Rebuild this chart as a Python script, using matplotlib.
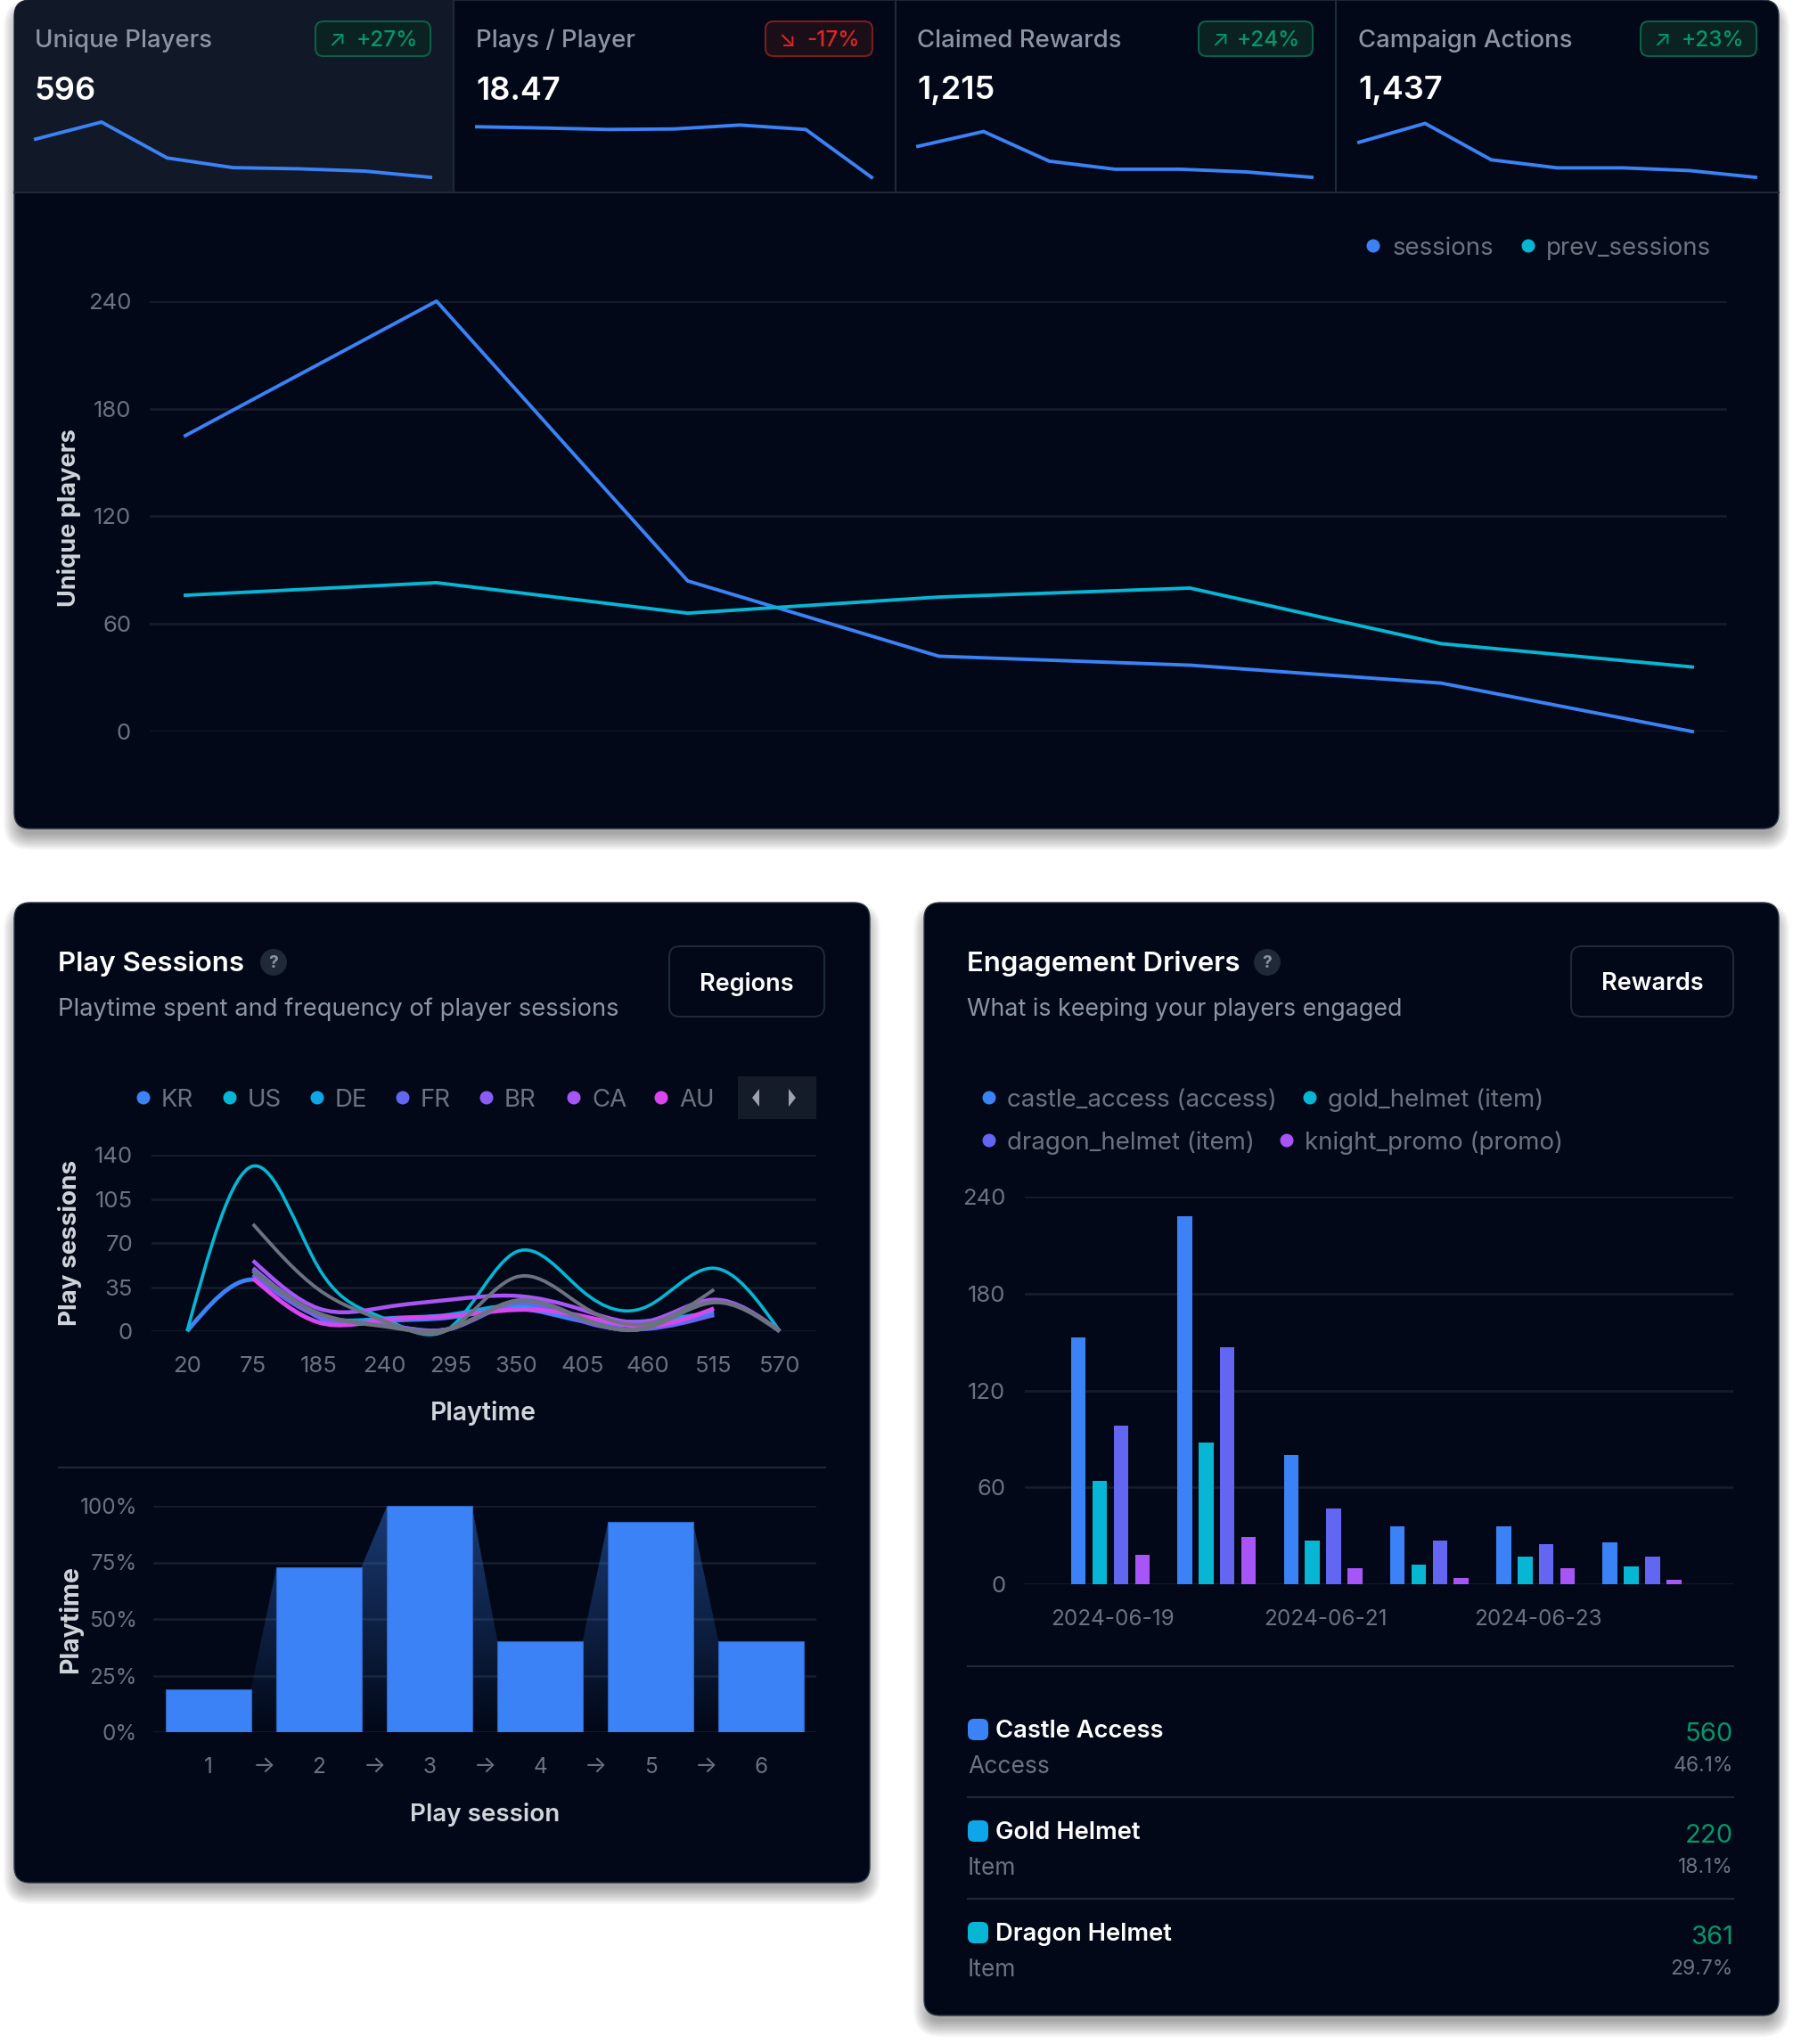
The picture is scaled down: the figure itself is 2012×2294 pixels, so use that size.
import matplotlib
matplotlib.use("Agg")
import matplotlib.pyplot as plt
import numpy as np
from matplotlib.patches import Circle, FancyBboxPatch, PathPatch, Polygon, Rectangle
from matplotlib.path import Path

W, H = 2012, 2294
plt.rcParams['font.family'] = ['Inter', 'DejaVu Sans']

BG = '#020817'
HILITE = '#111827'
BORDER = '#1f2937'
GRID = '#151d2c'
MUTED = '#6b7280'
SOFT = '#8b95a5'
LABEL = '#d1d5db'
BLUE = '#3b82f6'
CYAN = '#06b6d4'
SKY = '#0ea5e9'
INDIGO = '#6366f1'
VIOLET = '#8b5cf6'
PURPLE = '#a855f7'
FUCHSIA = '#d946ef'
GRAY = '#6b7280'
GREEN = '#059669'
RED = '#dc2626'

# kpi row
kpi_names = ['Unique Players', 'Plays / Player', 'Claimed Rewards', 'Campaign Actions']
kpi_values = ['596', '18.47', '1,215', '1,437']
kpi_deltas = ['+27%', '-17%', '+24%', '+23%']
spark_unique = [166, 240, 84, 42, 37, 27, 0]
spark_plays = [20.5, 20.0, 19.4, 19.6, 21.2, 19.4, 0]
spark_claimed = [184, 272, 96, 48, 48, 32, 0]
spark_actions = [208, 320, 104, 56, 56, 40, 0]

# main line chart
sessions = [165, 240, 84, 42, 37, 27, 0]
prev_sessions = [76, 83, 66, 75, 80, 49, 36]
main_ticks = [0, 60, 120, 180, 240]

# play sessions by region
playtime_labels = ['20', '75', '185', '240', '295', '350', '405', '460', '515', '570']
nan = np.nan
region_names = ['KR', 'US', 'DE', 'FR', 'BR', 'CA', 'AU']
region_kr = [0, 41, 11, 8, 11, 18, 8, 6, 13, nan]
region_us = [0, 131, 50, 10, 3, 63, 32, 20, 50, 0]
region_de = [nan, 48, 12, 10, 13, 20, 10, 8, 15, nan]
region_fr = [nan, 45, 12, 5, 2, 22, 8, 2, 13, nan]
region_br = [nan, 50, 13, 5, 2, 24, 10, 3, 24, 0]
region_ca = [nan, 56, 18, 19, 25, 28, 17, 8, 25, 0]
region_au = [nan, 42, 7, 9, 12, 17, 12, 4, 18, nan]
region_gray1 = [nan, 85, 33, 8, 2, 43, 20, 6, 33, nan]
region_gray2 = [nan, 48, 14, 4, 2, 24, 10, 3, 23, 0]
region_ticks = [0, 35, 70, 105, 140]

# funnel
funnel_labels = ['1', '2', '3', '4', '5', '6']
funnel_values = [19, 73, 100, 40, 93, 40]
funnel_ticks = [0, 25, 50, 75, 100]

# engagement bars
dates = ['2024-06-19', '2024-06-20', '2024-06-21', '2024-06-22', '2024-06-23', '2024-06-24']
castle_access = [153, 228, 80, 36, 36, 26]
gold_helmet = [64, 88, 27, 12, 17, 11]
dragon_helmet = [98, 147, 47, 27, 25, 17]
knight_promo = [18, 29, 10, 4, 10, 3]
engage_ticks = [0, 60, 120, 180, 240]

# table
table_names = ['Castle Access', 'Gold Helmet', 'Dragon Helmet']
table_types = ['Access', 'Item', 'Item']
table_counts = ['560', '220', '361']
table_shares = ['46.1%', '18.1%', '29.7%']


def px_axes(x0, y0, x1, y1):
    # axes from pixel box, y measured from the top of the picture
    ax = fig.add_axes([x0 / W, 1 - y1 / H, (x1 - x0) / W, (y1 - y0) / H])
    ax.patch.set_alpha(0)
    for s in ax.spines.values():
        s.set_visible(False)
    ax.tick_params(length=0, labelcolor=MUTED, labelsize=18.5)
    return ax


def natural_path(xs, ys):
    # natural cubic spline written as bezier segments
    n = len(xs)
    h = xs[1] - xs[0]
    A = np.eye(n)
    b = np.zeros(n)
    for i in range(1, n - 1):
        A[i, i - 1:i + 2] = [1, 4, 1]
        b[i] = 6 * (ys[i - 1] - 2 * ys[i] + ys[i + 1]) / h ** 2
    m = np.linalg.solve(A, b)
    verts = [(xs[0], ys[0])]
    codes = [Path.MOVETO]
    for i in range(n - 1):
        d = (ys[i + 1] - ys[i]) / h
        s0 = d - h * (2 * m[i] + m[i + 1]) / 6
        s1 = d + h * (m[i] + 2 * m[i + 1]) / 6
        verts += [(xs[i] + h / 3, ys[i] + s0 * h / 3),
                  (xs[i + 1] - h / 3, ys[i + 1] - s1 * h / 3),
                  (xs[i + 1], ys[i + 1])]
        codes += [Path.CURVE4] * 3
    return Path(verts, codes)


def card(x0, y0, x1, y1, r=18):
    for i in range(14):
        pad = 12 - i * 1.4
        ui.add_patch(FancyBboxPatch((x0 - pad, y0 + 12 - pad), x1 - x0 + 2 * pad, y1 - y0 + 2 * pad,
                                    boxstyle=f'round,pad=0,rounding_size={r + pad}',
                                    fc='black', ec='none', alpha=0.028))
    ui.add_patch(FancyBboxPatch((x0, y0), x1 - x0, y1 - y0, boxstyle=f'round,pad=0,rounding_size={r}',
                                fc=BG, ec='#2b3444', lw=1))


def label(x, y, s, **kw):
    # inter sits a little high with va=center
    kw.setdefault('va', 'center')
    ui.text(x, y + 3, s, **kw)


def dot_label(x, y, color, s, gap=20):
    ui.add_patch(Circle((x, y), 7.5, fc=color, ec='none'))
    label(x + gap, y, s, color=MUTED, fontsize=19.9, ha='left')


fig = plt.figure(figsize=(W / 100, H / 100), dpi=100, facecolor='white')
ui = fig.add_axes([0, 0, 1, 1])
ui.set_xlim(0, W)
ui.set_ylim(H, 0)
ui.axis('off')

# top card
card(16, 0, 1996, 930)
clip = FancyBboxPatch((16, 0), 1980, 930, boxstyle='round,pad=0,rounding_size=18',
                      fc='none', ec='none', transform=ui.transData)
ui.add_patch(clip)
hl = Rectangle((16, 0), 493, 216, fc=HILITE, ec='none')
ui.add_patch(hl)
hl.set_clip_path(clip)
ui.plot([16, 1996], [216, 216], color=BORDER, lw=1.5)
for x in [509, 1005, 1499]:
    ui.plot([x, x], [0, 216], color=BORDER, lw=1.5)

kpi_x = [39, 534, 1029, 1524]
badge_x = [(354, 483), (859, 979), (1345, 1473), (1841, 1971)]
spark_x = [(40, 483), (535, 978), (1030, 1472), (1525, 1970)]
spark_top = [240, 22.4, 328, 328]
sparks = [spark_unique, spark_plays, spark_claimed, spark_actions]
for i in range(4):
    label(kpi_x[i], 43, kpi_names[i], color=SOFT, fontsize=19.8, weight='medium')
    label(kpi_x[i], 99, kpi_values[i], color='white', fontsize=26, weight='semibold')
    up = kpi_deltas[i].startswith('+')
    col = GREEN if up else RED
    x0, x1 = badge_x[i]
    ui.add_patch(FancyBboxPatch((x0, 24), x1 - x0, 39, boxstyle='round,pad=0,rounding_size=9',
                                fc='#0a2222' if up else '#1a0f18', ec='#0b6048' if up else '#7f1d1d', lw=1.5))
    label(x0 + 24, 42, '↗' if up else '↘', color=col, fontsize=18, ha='center')
    label(x1 - 14, 42, kpi_deltas[i], color=col, fontsize=17.5, ha='right', weight='medium')
    ax = px_axes(spark_x[i][0], 137, spark_x[i][1], 199)
    ax.plot(range(7), sparks[i], color=BLUE, lw=2.8, clip_on=False, solid_joinstyle='miter')
    ax.set_xlim(0, 6)
    ax.set_ylim(0, spark_top[i])
    ax.set_xticks([])
    ax.set_yticks([])

# main chart
ax = px_axes(168, 338, 1938, 821)
ax.plot(range(7), sessions, color=BLUE, lw=2.8, clip_on=False)
ax.plot(range(7), prev_sessions, color=CYAN, lw=2.8, clip_on=False)
ax.set_xlim(-40 / 282, 6 + 39 / 282)
ax.set_ylim(0, 240)
ax.set_xticks([])
ax.set_yticks(main_ticks)
ax.tick_params(axis='y', pad=15)
ax.yaxis.grid(True, color=GRID, lw=2)
ax.set_axisbelow(True)
ui.text(78, 581, 'Unique players', color=LABEL, fontsize=19.5, rotation=90, va='center', ha='center',
        weight='bold')
dot_label(1541, 276, BLUE, 'sessions', 22)
dot_label(1715, 276, CYAN, 'prev_sessions', 20)

# play sessions card
card(16, 1013, 976, 2113)
label(65, 1079, 'Play Sessions', color='white', fontsize=22.5, weight='semibold')
ui.add_patch(Circle((307, 1080), 15, fc='#1f2937', ec='none'))
label(307, 1078, '?', color=SOFT, fontsize=14, ha='center', weight='bold')
label(65, 1130, 'Playtime spent and frequency of player sessions', color=SOFT, fontsize=19.7)
ui.add_patch(FancyBboxPatch((751, 1062), 174, 79, boxstyle='round,pad=0,rounding_size=12',
                            fc=BG, ec=BORDER, lw=1.5))
label(838, 1101, 'Regions', color='white', fontsize=19.5, ha='center', weight='semibold')

legend_x = [161, 258, 356, 452, 546, 644, 742]
legend_cols = [BLUE, CYAN, SKY, INDIGO, VIOLET, PURPLE, FUCHSIA]
for x, c, name in zip(legend_x, legend_cols, region_names):
    dot_label(x, 1232, c, name)
ui.add_patch(Rectangle((828, 1208), 88, 48, fc='#141b29', ec='none'))
ui.add_patch(Polygon([(852, 1222), (852, 1242), (844, 1232)], fc='#9ca3af', ec='none'))
ui.add_patch(Polygon([(885, 1222), (885, 1242), (893, 1232)], fc='#9ca3af', ec='none'))

ax = px_axes(170, 1296, 916, 1494)
series = [(region_kr, BLUE, 3.5), (region_us, CYAN, 2.6), (region_de, SKY, 3.5), (region_fr, INDIGO, 3.5),
          (region_br, VIOLET, 3.5), (region_ca, PURPLE, 3.2), (region_au, FUCHSIA, 3.5),
          (region_gray1, GRAY, 2.8), (region_gray2, GRAY, 3.5)]
for vals, color, lw in series:
    vals = np.array(vals, float)
    idx = np.arange(len(vals))[~np.isnan(vals)].astype(float)
    ax.add_patch(PathPatch(natural_path(idx, vals[idx.astype(int)]), fc='none', ec=color, lw=lw, clip_on=False))
ax.set_xlim(-40 / 74, 9 + 41 / 74)
ax.set_ylim(0, 140)
ax.set_xticks(range(10))
ax.set_xticklabels(playtime_labels)
ax.set_yticks(region_ticks)
ax.tick_params(axis='x', pad=20)
ax.tick_params(axis='y', pad=15)
ax.yaxis.grid(True, color=GRID, lw=2)
ax.set_axisbelow(True)
ui.text(79, 1395, 'Play sessions', color=LABEL, fontsize=20, rotation=90, va='center', ha='center',
        weight='bold')
label(542, 1583, 'Playtime', color=LABEL, fontsize=20.5, ha='center', weight='semibold')

ui.plot([66, 926], [1647, 1647], color=BORDER, lw=1.5)

# funnel
ax = px_axes(172, 1690, 916, 1944)
bar_w = 0.768
xs = np.arange(6)
bars = ax.bar(xs, funnel_values, width=bar_w, color=BLUE, ec='#2f63bd', lw=0.8, zorder=3)
grad = np.zeros((256, 2, 4))
grad[..., :3] = matplotlib.colors.to_rgb(BLUE)
grad[..., 3] = np.linspace(0.42, 0, 256)[:, None]
for i in range(5):
    poly = Polygon([(i + bar_w / 2, 0), (i + bar_w / 2, funnel_values[i]),
                    (i + 1 - bar_w / 2, funnel_values[i + 1]), (i + 1 - bar_w / 2, 0)],
                   fc='none', ec='none', transform=ax.transData)
    ax.add_patch(poly)
    im = ax.imshow(grad, extent=(i, i + 1, 0, 100), origin='upper', aspect='auto', zorder=2)
    im.set_clip_path(poly)
ax.set_xlim(-0.5, 5.5)
ax.set_ylim(0, 100)
ax.set_xticks(xs)
ax.set_xticklabels(funnel_labels)
ax.set_yticks(funnel_ticks)
ax.set_yticklabels([f'{t}%' for t in funnel_ticks])
ax.tick_params(labelsize=17.5)
ax.tick_params(axis='x', pad=20)
ax.tick_params(axis='y', pad=13)
ax.yaxis.grid(True, color=GRID, lw=2)
ax.set_axisbelow(True)
for i in range(5):
    ax.annotate('→', (i + 0.5, 0), xytext=(0, -27), textcoords='offset points', color=MUTED, fontsize=19,
                ha='center', va='center', annotation_clip=False)
ui.text(79, 1817, 'Playtime', color=LABEL, fontsize=20.5, rotation=90, va='center', ha='center',
        weight='bold')
label(544, 2033, 'Play session', color=LABEL, fontsize=20, ha='center', weight='semibold')

# engagement card
card(1037, 1013, 1996, 2262)
label(1085, 1079, 'Engagement Drivers', color='white', fontsize=22.4, weight='semibold')
ui.add_patch(Circle((1422, 1080), 15, fc='#1f2937', ec='none'))
label(1422, 1078, '?', color=SOFT, fontsize=14, ha='center', weight='bold')
label(1085, 1130, 'What is keeping your players engaged', color=SOFT, fontsize=19.3)
ui.add_patch(FancyBboxPatch((1763, 1062), 182, 79, boxstyle='round,pad=0,rounding_size=12',
                            fc=BG, ec=BORDER, lw=1.5))
label(1854, 1101, 'Rewards', color='white', fontsize=19.5, ha='center', weight='semibold')
dot_label(1110, 1232, BLUE, 'castle_access (access)')
dot_label(1470, 1232, CYAN, 'gold_helmet (item)')
dot_label(1110, 1280, INDIGO, 'dragon_helmet (item)')
dot_label(1444, 1280, PURPLE, 'knight_promo (promo)')

ax = px_axes(1150, 1343, 1945, 1778)
step = 0.2
width = 0.138
x = np.arange(6)
for off, vals, color in zip([-1.5, -0.5, 0.5, 1.5], [castle_access, gold_helmet, dragon_helmet, knight_promo],
                            [BLUE, CYAN, INDIGO, PURPLE]):
    ax.bar(x + off * step, vals, width=width, color=color, zorder=3)
ax.set_xlim(-96 / 119.3, 699 / 119.3)
ax.set_ylim(0, 240)
ax.set_xticks(x[::2] + 0.025)
ax.set_xticklabels(dates[::2], fontsize=17.5)
ax.set_yticks(engage_ticks)
ax.tick_params(axis='x', pad=20.5)
ax.tick_params(axis='y', pad=15.5)
ax.yaxis.grid(True, color=GRID, lw=2)
ax.set_axisbelow(True)

ui.plot([1086, 1945], [1870, 1870], color=BORDER, lw=1.5)
swatch_cols = [BLUE, SKY, CYAN]
for i in range(3):
    y = 1941 + 114 * i
    ui.add_patch(FancyBboxPatch((1086, y - 12), 23, 24, boxstyle='round,pad=0,rounding_size=7',
                                fc=swatch_cols[i], ec='none'))
    label(1117, y - 1, table_names[i], color='white', fontsize=19.7, weight='semibold')
    label(1086, y + 39, table_types[i], color=MUTED, fontsize=19)
    label(1945, y + 3, table_counts[i], color=GREEN, fontsize=21, ha='right')
    label(1945, y + 38, table_shares[i], color=MUTED, fontsize=16.5, ha='right')
    if i < 2:
        ui.plot([1086, 1945], [y + 76, y + 76], color=BORDER, lw=1.5)

fig.savefig('out.png', dpi=100)
